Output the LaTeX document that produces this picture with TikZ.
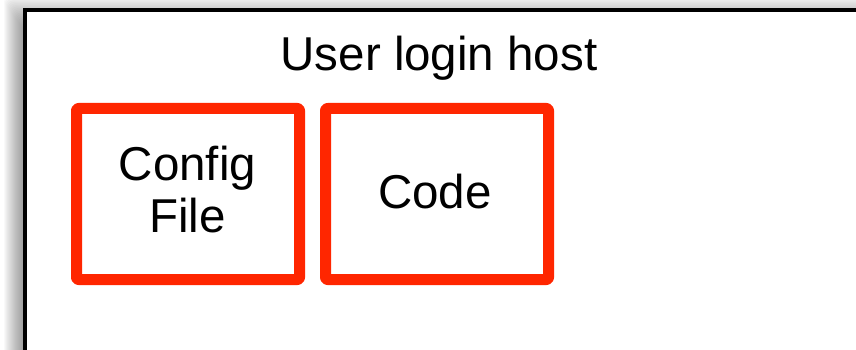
\documentclass[tikz,border=0pt]{standalone}
\usepackage{fontspec}
\setmainfont{Liberation Sans}
\definecolor{boxred}{RGB}{255,38,0}
\tikzset{
  hostframe/.style={draw=black, line width=4pt, fill=white},
  partbox/.style={draw=boxred, line width=11pt, rounded corners=2pt, line join=round,
    minimum width=223pt, minimum height=171pt, inner sep=0pt},
  label/.style={font=\fontsize{47.5}{53}\selectfont, inner sep=0pt, anchor=base},
}
\begin{document}
\begin{tikzpicture}[x=1pt, y=-1pt]
  \useasboundingbox (0,0) rectangle (856,350);
  % soft shadow behind the host frame
  \foreach \i in {0,...,23} {
    \fill[black, fill opacity=0.025, rounded corners=6pt]
      (4+\i, 1.5*\i-4) rectangle (900, 400);
  }
  % host frame running off the right and bottom edges
  \draw[hostframe] (25,10) rectangle (880,380);
  \node[label] (title) at (439,71) {User login host};
  % the two parts on the host
  \node[partbox] (config) at (188,194) {};
  \node[partbox] (code) at (437,194) {};
  \node[label] (configtxt1) at (187.5,180) {Config};
  \node[label] (configtxt2) at (187.5,232) {File};
  \node[label] (codetxt) at (435,208) {Code};
\end{tikzpicture}
\end{document}
